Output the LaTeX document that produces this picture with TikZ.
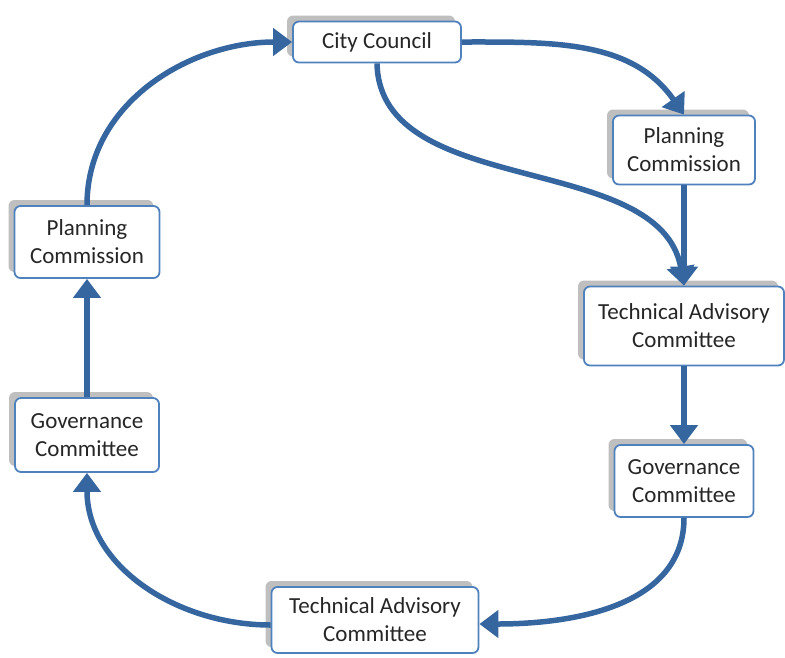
\documentclass[tikz,border=0pt]{standalone}
\usepackage{fontspec}
\setmainfont{Carlito}
\usetikzlibrary{arrows.meta,shadows}
\definecolor{boxblue}{HTML}{4F81BD}
\definecolor{arrowblue}{HTML}{36669F}
\definecolor{shadowgray}{HTML}{BFBFBF}
\definecolor{textdark}{HTML}{262626}
\tikzset{
  boxnode/.style={draw=boxblue, line width=1.8pt, fill=white, rounded corners=6pt,
    align=center, text=textdark, inner sep=0pt,
    font=\fontsize{23}{28}\selectfont,
    general shadow={fill=shadowgray, shadow xshift=-6pt, shadow yshift=6pt}},
  flow/.style={draw=arrowblue, line width=5.5pt,
    -{Triangle[length=19pt,width=27pt]}, arrowblue}
}
\begin{document}
\begin{tikzpicture}[x=1pt,y=-1pt]
\useasboundingbox (0,0) rectangle (785,657);
\node[boxnode, minimum width=168pt, minimum height=41pt] (cc) at (377,42) {City Council};
\node[boxnode, minimum width=142pt, minimum height=69pt] (pr) at (684,150) {Planning\\Commission};
\node[boxnode, minimum width=200pt, minimum height=79pt] (tr) at (684,326) {Technical Advisory\\Committee};
\node[boxnode, minimum width=139pt, minimum height=72pt] (gr) at (684,481) {Governance\\Committee};
\node[boxnode, minimum width=207pt, minimum height=66pt] (tb) at (375,620) {Technical Advisory\\Committee};
\node[boxnode, minimum width=144pt, minimum height=74pt] (gl) at (87,435) {Governance\\Committee};
\node[boxnode, minimum width=145pt, minimum height=72pt] (pl) at (87,242) {Planning\\Commission};

\draw[flow] (pl.north) to[out=90,in=180] (cc.west);
\draw[flow] (cc.east) to[out=0,in=125] (pr.north);
\draw[flow] (cc.south) .. controls (380,200) and (660,150) .. (tr.north);
\draw[flow] (pr.south) -- (tr.north);
\draw[flow] (tr.south) -- (gr.north);
\draw[flow] (gr.south) to[out=-90,in=0] ([yshift=-4pt]tb.east);
\draw[flow] ([yshift=-5pt]tb.west) to[out=180,in=-90] (gl.south);
\draw[flow] (gl.north) -- (pl.south);
\end{tikzpicture}
\end{document}
